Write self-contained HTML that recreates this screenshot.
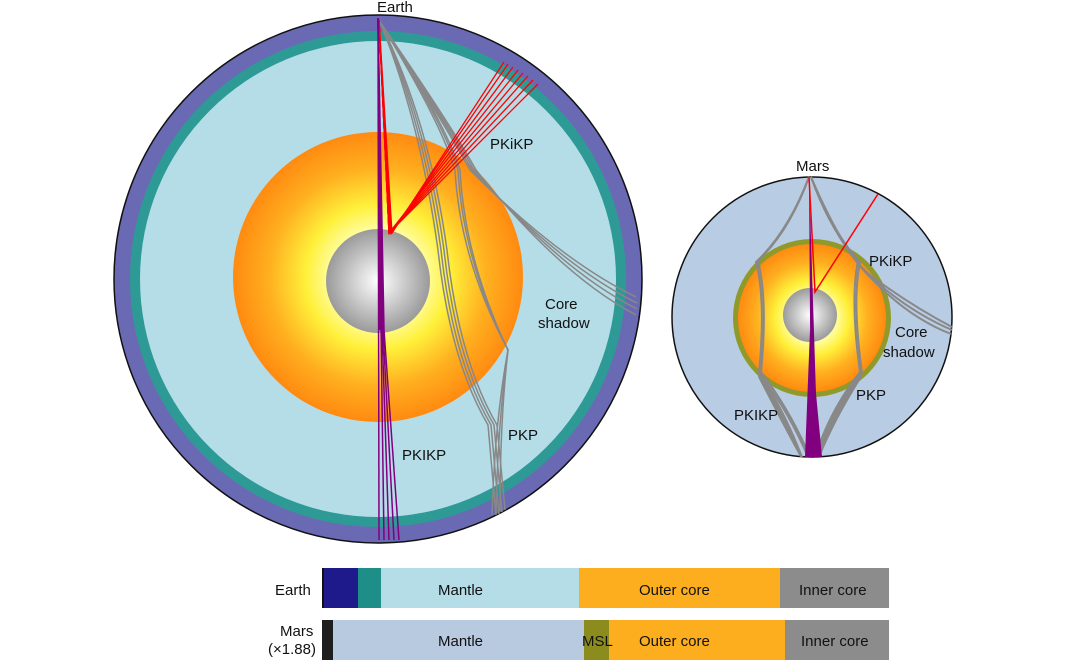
<!DOCTYPE html>
<html><head><meta charset="utf-8"><style>
body{margin:0;background:#fff;width:1066px;height:660px;overflow:hidden;font-family:"Liberation Sans",sans-serif}
svg text{font-family:"Liberation Sans",sans-serif;font-size:15px;fill:#111}
</style></head><body>
<svg width="1066" height="660" viewBox="0 0 1066 660">
<defs>
<radialGradient id="oc" cx="0.5" cy="0.5" r="0.5">
<stop offset="0.3" stop-color="#ffffb0"/><stop offset="0.5" stop-color="#fff03a"/><stop offset="0.75" stop-color="#ffb020"/><stop offset="1" stop-color="#ff8a10"/></radialGradient>
<radialGradient id="ic" cx="0.5" cy="0.5" r="0.5">
<stop offset="0" stop-color="#ffffff"/><stop offset="1" stop-color="#9a9a9a"/></radialGradient>
</defs>
<!-- Earth -->
<circle cx="378" cy="279" r="264" fill="#6a6ab4" stroke="#111" stroke-width="1.5"/>
<circle cx="378" cy="279" r="248" fill="#2e9a96"/>
<circle cx="378" cy="279" r="238" fill="#b5dde8"/>
<circle cx="378" cy="277" r="145" fill="url(#oc)"/>
<circle cx="378" cy="281" r="52" fill="url(#ic)"/>
<g fill="none" stroke="#888" stroke-width="1.5">
<path d="M380 22 Q420 120 438 250 Q450 360 488 425 L496 515"/>
<path d="M380 22 Q423 120 441 250 Q453 360 491 425 L499 514"/>
<path d="M380 22 Q426 120 444 250 Q456 360 494 425 L502 512"/>
<path d="M380 22 Q429 120 447 250 Q459 360 497 425 L505 510"/>
<path d="M380 22 Q440 120 455 170 Q460 260 508 350 Q495 420 492 515"/>
<path d="M380 22 Q442 120 458 170 Q463 260 508 350 Q498 420 496 513"/>
<path d="M380 22 Q444 120 460 170 Q465 260 508 350 Q500 420 500 511"/>
<path d="M380 22 Q445 125 470 170 Q560 260 636 297"/>
<path d="M380 22 Q447 125 472 170 Q560 265 637 303"/>
<path d="M380 22 Q449 125 474 170 Q560 270 637 309"/>
<path d="M380 22 Q451 125 476 170 Q560 275 636 315"/>
</g>
<g fill="none" stroke="#f00" stroke-width="1.3">
<path d="M379 20 L392 233 L504 62"/><path d="M379 20 L391 233 L508 64"/><path d="M379 20 L390 233 L513 67"/>
<path d="M379 20 L389 233 L518 70"/><path d="M379 20 L389 233 L523 73"/><path d="M379 20 L389 233 L528 76"/>
<path d="M379 20 L389 233 L533 80"/><path d="M379 20 L389 233 L538 84"/>
</g>
<g fill="none" stroke="#800080" stroke-width="1.5">
<path d="M378 18 L379 540"/><path d="M378 18 L381 330 L384 540"/><path d="M378 18 L382 330 L389 540"/>
<path d="M378 18 L383 330 L394 540"/><path d="M378 18 L384 330 L399 540"/>
</g>
<path d="M378 18 L382 330 L378 330 Z" fill="#800080"/>
<text x="377" y="12">Earth</text>
<text x="490" y="149">PKiKP</text>
<text x="545" y="309">Core</text><text x="538" y="328">shadow</text>
<text x="508" y="440">PKP</text>
<text x="402" y="460">PKIKP</text>
<!-- Mars -->
<circle cx="812" cy="317" r="140" fill="#b8cce4" stroke="#111" stroke-width="1.5"/>
<circle cx="812" cy="318" r="79" fill="#8f9a2a"/>
<circle cx="812" cy="318" r="74" fill="url(#oc)"/>
<circle cx="810" cy="315" r="27" fill="url(#ic)"/>
<g fill="none" stroke="#888" stroke-width="2">
<path d="M809 177 Q790 230 758 261 Q768 300 761 372 Q790 410 810 457"/>
<path d="M809 177 Q788 232 756 262 Q766 300 759 373 Q788 410 808 457"/>
<path d="M811 177 Q830 230 858 261 Q850 300 860 372 Q830 410 815 457"/>
<path d="M811 177 Q832 232 860 262 Q852 300 862 373 Q832 410 817 457"/>
<path d="M811 177 Q840 250 870 275 Q910 305 952 327"/>
<path d="M811 177 Q842 252 872 278 Q910 312 952 330"/>
<path d="M811 177 Q844 254 874 281 Q910 318 951 334"/>
</g>
<path d="M760 372 Q785 410 803 457 L818 457 Q830 410 861 372 L862 377 Q835 420 820 457 L800 457 Q780 420 758 377 Z" fill="#888"/>
<g fill="none" stroke="#f00" stroke-width="1.5"><path d="M809 177 L815 292 L878 194"/></g>
<path d="M809 177 L818 457 L811 457 Z" fill="#800080"/>
<path d="M810 330 L822 457 L805 457 Z" fill="#800080"/>
<text x="796" y="171">Mars</text>
<text x="869" y="266">PKiKP</text>
<text x="895" y="337">Core</text><text x="883" y="357">shadow</text>
<text x="856" y="400">PKP</text>
<text x="734" y="420">PKIKP</text>
<!-- Bars -->
<rect x="322" y="568" width="2" height="40" fill="#111"/>
<rect x="324" y="568" width="34" height="40" fill="#1e1a8c"/>
<rect x="358" y="568" width="23" height="40" fill="#1e8e88"/>
<rect x="381" y="568" width="198" height="40" fill="#b5dde8"/>
<rect x="579" y="568" width="201" height="40" fill="#fdae1e"/>
<rect x="780" y="568" width="109" height="40" fill="#8c8c8c"/>
<rect x="322" y="620" width="11" height="40" fill="#1e1e1e"/>
<rect x="333" y="620" width="251" height="40" fill="#b8cae0"/>
<rect x="584" y="620" width="25" height="40" fill="#8c8c1e"/>
<rect x="609" y="620" width="176" height="40" fill="#fdae1e"/>
<rect x="785" y="620" width="104" height="40" fill="#8c8c8c"/>
<text x="275" y="595">Earth</text>
<text x="280" y="636">Mars</text><text x="268" y="654">(×1.88)</text>
<text x="438" y="595">Mantle</text><text x="639" y="595">Outer core</text><text x="799" y="595">Inner core</text>
<text x="438" y="646">Mantle</text><text x="582" y="646">MSL</text><text x="639" y="646">Outer core</text><text x="801" y="646">Inner core</text>
</svg>
</body></html>
